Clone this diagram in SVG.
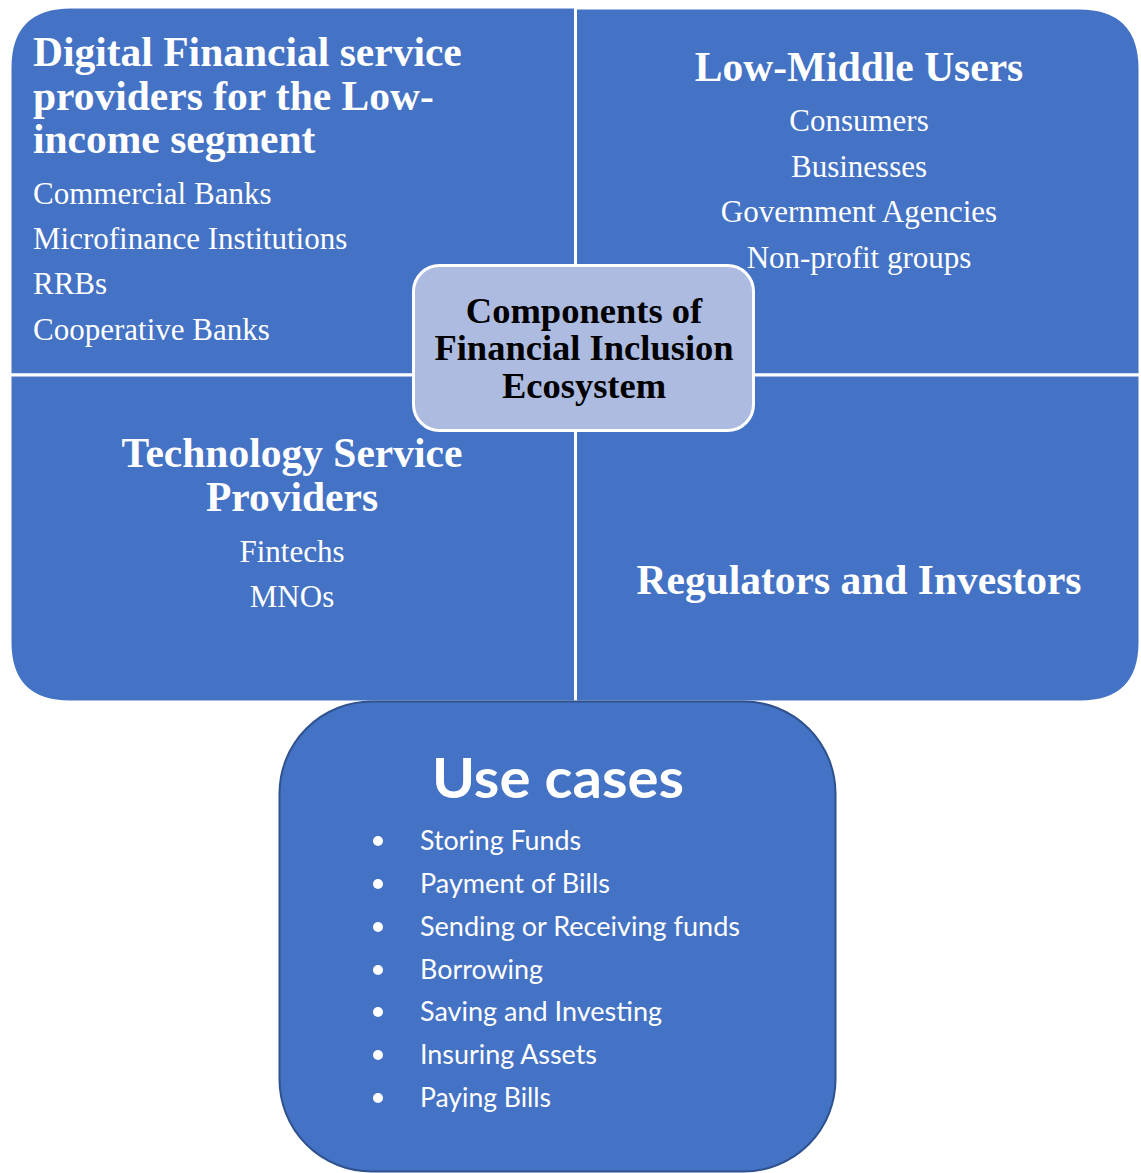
<svg xmlns="http://www.w3.org/2000/svg" width="1141" height="1173" viewBox="0 0 1141 1173">
<style>
.quad{fill:#4472C4;stroke:#FFFFFF;stroke-width:3}
.hd{font-family:"Liberation Serif","Times New Roman",serif;font-weight:bold;font-size:41.5px;fill:#FFFFFF}
.it{font-family:"Liberation Serif","Times New Roman",serif;font-size:31px;fill:#FFFFFF}
.ctr{font-family:"Liberation Serif","Times New Roman",serif;font-weight:bold;font-size:36.5px;fill:#000000}
.uc{font-family:Lato,"Open Sans","Liberation Sans",sans-serif;font-weight:bold;font-size:56px;fill:#FFFFFF}
.li{font-family:Lato,"Open Sans","Liberation Sans",sans-serif;font-size:26px;fill:#FFFFFF}
.bl{fill:#FFFFFF}
</style>
<rect width="1141" height="1173" fill="#FFFFFF"/>
<g id="connectors"></g>
<g id="q-providers">
<path class="quad" d="M10,375 L10,68 Q10,7 71,7 L575.5,7 L575.5,375 Z"/>
<text class="hd" x="33" y="66">Digital Financial service</text>
<text class="hd" x="33" y="109.5">providers for the Low-</text>
<text class="hd" x="33" y="153">income segment</text>
<text class="it" x="33" y="204">Commercial Banks</text>
<text class="it" x="33" y="249">Microfinance Institutions</text>
<text class="it" x="33" y="294">RRBs</text>
<text class="it" x="33" y="340">Cooperative Banks</text>
</g>
<g id="q-users">
<path class="quad" d="M575.5,375 L575.5,8 L1079,8 Q1140,8 1140,69 L1140,375 Z"/>
<text class="hd" x="859" y="81" text-anchor="middle">Low-Middle Users</text>
<text class="it" x="859" y="131" text-anchor="middle">Consumers</text>
<text class="it" x="859" y="177" text-anchor="middle">Businesses</text>
<text class="it" x="859" y="222" text-anchor="middle">Government Agencies</text>
<text class="it" x="859" y="268" text-anchor="middle">Non-profit groups</text>
</g>
<g id="q-tech">
<path class="quad" d="M10,375 L575.5,375 L575.5,702 L70,702 Q10,702 10,642 Z"/>
<text class="hd" x="292" y="467" text-anchor="middle">Technology Service</text>
<text class="hd" x="292" y="511" text-anchor="middle">Providers</text>
<text class="it" x="292" y="562" text-anchor="middle">Fintechs</text>
<text class="it" x="292" y="607" text-anchor="middle">MNOs</text>
</g>
<g id="q-regulators">
<path class="quad" d="M575.5,375 L1140,375 L1140,642 Q1140,702 1080,702 L575.5,702 Z"/>
<text class="hd" x="859" y="594" text-anchor="middle">Regulators and Investors</text>
</g>
<g id="center">
<rect x="413.5" y="265.5" width="340" height="165" rx="26" ry="26" fill="#AEBBE0" stroke="#FFFFFF" stroke-width="3"/>
<text class="ctr" x="584" y="322.5" text-anchor="middle">Components of</text>
<text class="ctr" x="584" y="360" text-anchor="middle">Financial Inclusion</text>
<text class="ctr" x="584" y="397.5" text-anchor="middle">Ecosystem</text>
</g>
<g id="use-cases">
<rect x="279.5" y="701.5" width="556" height="470" rx="92" ry="92" fill="#4472C4" stroke="#2F528F" stroke-width="2"/>
<text class="uc" x="558" y="797.5" text-anchor="middle" textLength="252" lengthAdjust="spacingAndGlyphs">Use cases</text>
<circle class="bl" cx="378" cy="841" r="5"/>
<text class="li" x="420" y="850" textLength="161" lengthAdjust="spacingAndGlyphs">Storing Funds</text>
<circle class="bl" cx="378" cy="884" r="5"/>
<text class="li" x="420" y="893" textLength="190" lengthAdjust="spacingAndGlyphs">Payment of Bills</text>
<circle class="bl" cx="378" cy="927" r="5"/>
<text class="li" x="420" y="936" textLength="320" lengthAdjust="spacingAndGlyphs">Sending or Receiving funds</text>
<circle class="bl" cx="378" cy="970" r="5"/>
<text class="li" x="420" y="979" textLength="123" lengthAdjust="spacingAndGlyphs">Borrowing</text>
<circle class="bl" cx="378" cy="1012" r="5"/>
<text class="li" x="420" y="1021" textLength="242" lengthAdjust="spacingAndGlyphs">Saving and Investing</text>
<circle class="bl" cx="378" cy="1055" r="5"/>
<text class="li" x="420" y="1064" textLength="177" lengthAdjust="spacingAndGlyphs">Insuring Assets</text>
<circle class="bl" cx="378" cy="1098" r="5"/>
<text class="li" x="420" y="1107" textLength="131" lengthAdjust="spacingAndGlyphs">Paying Bills</text>
</g>
</svg>
